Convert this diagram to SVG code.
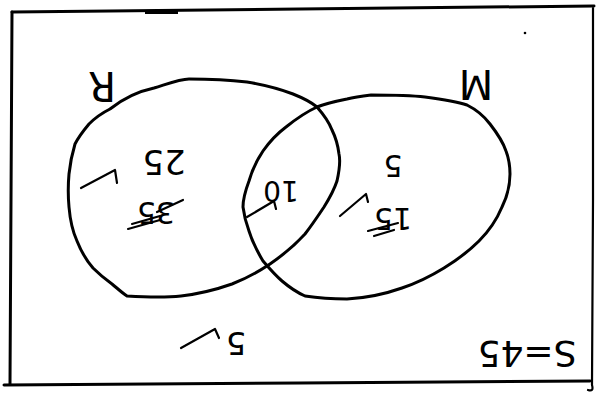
<svg xmlns="http://www.w3.org/2000/svg" width="604" height="398" viewBox="0 0 604 398">
<style>
.ink{fill:none;stroke:#000;stroke-width:3;stroke-linecap:round;stroke-linejoin:round}
.thin{fill:none;stroke:#000;stroke-width:2.2;stroke-linecap:round;stroke-linejoin:round}
.t{font-family:"DejaVu Sans","Liberation Sans",sans-serif;fill:#000;text-anchor:middle;dominant-baseline:central}
</style>
<rect width="604" height="398" fill="#fff"/>
<g id="frame">
<path class="ink" d="M12,12 L300,9 L594,6"/>
<path class="ink" d="M12,12 L11,200 L10,384"/>
<path class="ink" d="M4,385 L300,383 L590,381"/>
<path class="thin" d="M593,8 L593,200 L592,385 Q594,392 588,390"/>
<path d="M145,10 L178,9 L178,14 L145,14 Z" fill="#000"/>
<circle cx="525" cy="33" r="1.3" fill="#000"/>
</g>
<g id="set-R">
<path class="ink" d="M110,109 C125,97 140,91 154,88 C170,83 180,79 189,79 C210,79 230,80 247,82 C265,85 280,89 293,94 C303,98 311,102 317,107 C324,115 329,122 332,130 C336,138 338,146 339,154 C341,163 339,172 337,181 C334,190 329,199 324,207 C318,216 312,225 305,234 C295,245 283,255 270,264 C258,272 245,279 232,284 C215,290 198,294 181,296 C162,298 144,297 127,296 C121,292 117,288 112,284 C105,279 99,274 93,268 C86,260 81,251 77,241 C72,230 70,219 69,207 C68,196 68,185 69,174 C70,164 72,154 75,144 C79,136 84,130 89,124 C95,118 102,113 110,109 Z"/>
<text class="t" font-size="40" transform="rotate(180 102 86)" x="102" y="86">R</text>
</g>
<g id="set-M">
<path class="ink" d="M249,181 C252,170 257,160 263,151 C270,141 278,133 286,127 C296,119 306,112 317,107 C327,103 337,101 347,99 C355,97 363,96 371,95 C390,95 408,95 425,97 C440,99 455,101 467,105 C477,110 484,116 490,124 C497,133 503,142 506,151 C509,159 510,167 510,174 C510,186 507,197 502,207 C497,219 489,231 479,241 C469,251 457,260 444,268 C431,276 417,283 402,288 C385,294 366,298 347,299 C332,299 318,298 305,296 C296,292 289,287 282,281 C275,275 269,268 263,261 C257,251 252,241 249,231 C246,223 244,215 243,207 C243,198 246,189 249,181 Z"/>
<text class="t" font-size="40" transform="rotate(180 476 84)" x="476" y="84">M</text>
</g>
<g id="counts">
<text class="t" font-size="34" transform="rotate(180 164 162)" x="164" y="162">25</text>
<text class="t" font-size="30" transform="rotate(180 156 212)" x="156" y="212">35</text>
<path class="thin" d="M128,229 L160,220 M132,224 L160,216 M157,212 L183,200"/>
<text class="t" font-size="28" transform="rotate(180 281 190)" x="281" y="190">10</text>
<text class="t" font-size="30" transform="rotate(180 393 165)" x="393" y="165">5</text>
<text class="t" font-size="30" transform="rotate(180 393 218)" x="393" y="218">15</text>
<path class="thin" d="M368,231 L398,223 M374,236 L394,230"/>
<text class="t" font-size="32" transform="rotate(180 236 343)" x="236" y="343">5</text>
<text class="t" font-size="36" transform="rotate(180 527 353)" x="527" y="353">S=45</text>
</g>
<g id="ticks">
<path class="thin" d="M81,188 L115,170 L117,183"/>
<path class="thin" d="M247,217 L274,201 L276,209"/>
<path class="thin" d="M340,216 L366,194 L368,202"/>
<path class="thin" d="M181,348 L215,329 L219,338"/>
</g>
</svg>
